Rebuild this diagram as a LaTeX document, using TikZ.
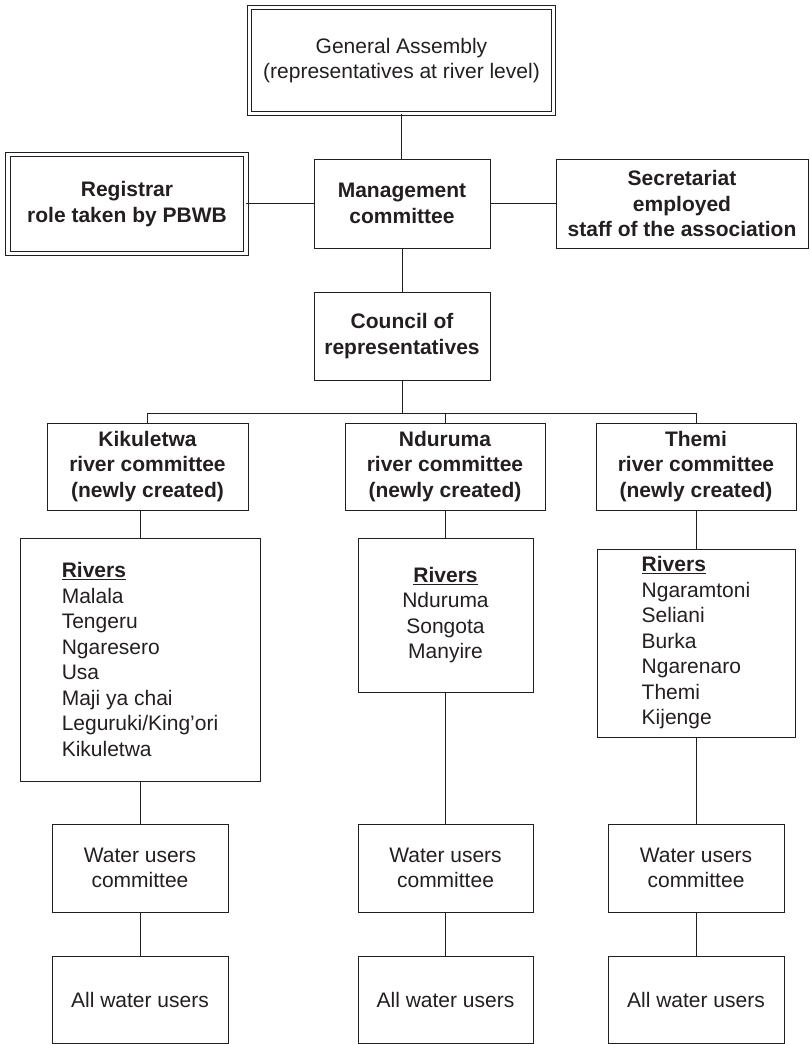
\documentclass[tikz,border=0pt]{standalone}
\usepackage{fontspec}
\setmainfont{Liberation Sans}
\definecolor{ink}{HTML}{231F20}
\begin{document}
\begin{tikzpicture}[x=1pt,y=-1pt,
  box/.style={draw=ink, text=ink, line width=1pt, inner sep=0pt, align=center, font=\fontsize{21}{25.5}\selectfont},
  bbox/.style={box, font=\fontsize{21}{25.5}\selectfont\bfseries},
  dbox/.style={double, double distance=3.5pt, line width=0.9pt},
  link/.style={draw=ink, line width=1pt}]
\useasboundingbox (0,0) rectangle (809,1044);
% top
\node[box, dbox, minimum width=304pt, minimum height=106pt] (ga) at (401.5,60.5)
  {General Assembly\\(representatives at river level)};
\node[bbox, dbox, minimum width=238pt, minimum height=99pt] (reg) at (127,204)
  {Registrar\\role taken by PBWB};
\node[bbox, minimum width=176pt, minimum height=89pt] (mg) at (402,203.5)
  {Management\\committee};
\node[bbox, minimum width=252pt, minimum height=89pt] (sec) at (682,203.5)
  {Secretariat\\employed\\staff of the association};
\node[bbox, minimum width=176pt, minimum height=88pt] (co) at (402,336)
  {Council of\\representatives};
% river committees
\node[bbox, minimum width=201pt, minimum height=87pt] (kc) at (147.5,466.5)
  {Kikuletwa\\river committee\\(newly created)};
\node[bbox, minimum width=200pt, minimum height=87pt] (nc) at (445,466.5)
  {Nduruma\\river committee\\(newly created)};
\node[bbox, minimum width=200pt, minimum height=87pt] (tc) at (696,466.5)
  {Themi\\river committee\\(newly created)};
% rivers
\node[box, align=left, minimum width=240pt, minimum height=243pt] (kr) at (140,659.5)
  {\underline{\textbf{Rivers}}\\Malala\\Tengeru\\Ngaresero\\Usa\\Maji ya chai\\Leguruki/King’ori\\Kikuletwa};
\node[box, minimum width=175pt, minimum height=154pt] (nr) at (445.5,615)
  {\underline{\textbf{Rivers}}\\Nduruma\\Songota\\Manyire};
\node[box, align=left, minimum width=198pt, minimum height=188pt] (tr) at (696,643)
  {\underline{\textbf{Rivers}}\\Ngaramtoni\\Seliani\\Burka\\Ngarenaro\\Themi\\Kijenge};
% water users committees
\node[box, minimum width=176pt, minimum height=88pt] (kw) at (140,868) {Water users\\committee};
\node[box, minimum width=175pt, minimum height=88pt] (nw) at (445.5,868) {Water users\\committee};
\node[box, minimum width=176pt, minimum height=88pt] (tw) at (696,868) {Water users\\committee};
% all water users
\node[box, minimum width=176pt, minimum height=87pt] (ka) at (140,999.5) {All water users};
\node[box, minimum width=175pt, minimum height=87pt] (na) at (445.5,999.5) {All water users};
\node[box, minimum width=176pt, minimum height=87pt] (ta) at (696,999.5) {All water users};
% connectors
\coordinate (bus) at (401,413);
\draw[link] (ga.south) -- (mg.north -| ga.south);
\draw[link] (mg.west) -- (mg.west -| reg.east);
\draw[link] (mg.east) -- (mg.east -| sec.west);
\draw[link] (mg.south) -- (co.north);
\draw[link] (co.south) -- (co.south |- bus);
\draw[link] (kc.north) -- (kc.north |- bus) -- (tc.north |- bus) -- (tc.north);
\draw[link] (nc.north) -- (nc.north |- bus);
\draw[link] (kr.north) -- (kr.north |- kc.south);
\draw[link] (nr.north) -- (nr.north |- nc.south);
\draw[link] (tr.north) -- (tr.north |- tc.south);
\draw[link] (kr.south) -- (kw.north);
\draw[link] (nr.south) -- (nw.north);
\draw[link] (tr.south) -- (tw.north);
\draw[link] (kw.south) -- (ka.north);
\draw[link] (nw.south) -- (na.north);
\draw[link] (tw.south) -- (ta.north);
\end{tikzpicture}
\end{document}
